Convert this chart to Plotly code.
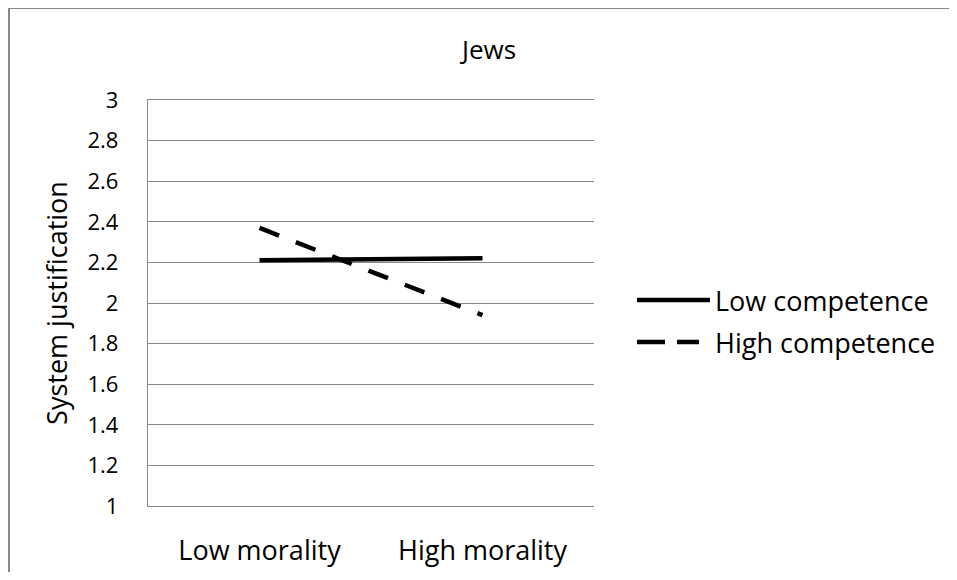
import plotly.graph_objects as go

categories = ["Low morality", "High morality"]
series_names = ["Low competence", "High competence"]
low_competence = [2.21, 2.22]
high_competence = [2.37, 1.94]
y_ticks = [1, 1.2, 1.4, 1.6, 1.8, 2, 2.2, 2.4, 2.6, 2.8, 3]
y_tick_labels = ["1", "1.2", "1.4", "1.6", "1.8", "2", "2.2", "2.4", "2.6", "2.8", "3"]

# The page body has an 8px margin, so the figure is sized to fit inside it.
OFF = 8
W, H = 941, 564
L, T = 148 - OFF, 100 - OFF
R = W - (594 - OFF)
B = H - (506 - OFF)
pw, ph = W - L - R, H - T - B

def px_x(p):  # page px -> paper
    return (p - OFF - L) / pw

def px_y(p):
    return (H - B - (p - OFF)) / ph

FONT = "Open Sans"
GRID = "#898989"
fig = go.Figure()
fig.add_trace(go.Scatter(x=categories, y=low_competence, mode="lines", name=series_names[0],
                         line=dict(color="black", width=4.5), showlegend=False))
fig.add_trace(go.Scatter(x=categories, y=high_competence, mode="lines", name=series_names[1],
                         line=dict(color="black", width=4.5, dash="21px,18px"), showlegend=False))

shapes = [
    # chart border (left and top)
    dict(type="line", xref="paper", yref="paper", x0=px_x(9), x1=px_x(1000), y0=px_y(8), y1=px_y(8),
         line=dict(color=GRID, width=2)),
    dict(type="line", xref="paper", yref="paper", x0=px_x(9), x1=px_x(9), y0=px_y(8), y1=px_y(700),
         line=dict(color=GRID, width=2)),
    # legend symbols
    dict(type="line", xref="paper", yref="paper", x0=px_x(637), x1=px_x(710), y0=px_y(300), y1=px_y(300),
         line=dict(color="black", width=4.5)),
    dict(type="line", xref="paper", yref="paper", x0=px_x(637), x1=px_x(699), y0=px_y(342), y1=px_y(342),
         line=dict(color="black", width=4.5, dash="28px,12px")),
]
annotations = [
    dict(text="Jews", xref="paper", yref="paper", x=px_x(487), y=px_y(49), showarrow=False,
         xanchor="center", yanchor="middle", font=dict(size=26, color="black", family=FONT)),
    dict(text=series_names[0], xref="paper", yref="paper", x=px_x(713), y=px_y(300), showarrow=False,
         xanchor="left", yanchor="middle", font=dict(size=27, color="black", family=FONT)),
    dict(text=series_names[1], xref="paper", yref="paper", x=px_x(713), y=px_y(342), showarrow=False,
         xanchor="left", yanchor="middle", font=dict(size=27, color="black", family=FONT)),
]

fig.update_layout(
    width=W, height=H,
    margin=dict(l=L, r=R, t=T, b=B, pad=0, autoexpand=False),
    paper_bgcolor="white", plot_bgcolor="white",
    showlegend=False,
    shapes=shapes, annotations=annotations,
    font=dict(family=FONT, size=22, color="black"),
    xaxis=dict(type="category", range=[-0.5, 1.5], showgrid=False, zeroline=False,
               showline=True, mirror=True, linecolor=GRID, linewidth=1.3,
               automargin=False,
               ticks="", ticklabelstandoff=20, tickfont=dict(size=27, family=FONT)),
    yaxis=dict(range=[1, 3], tickvals=y_ticks, ticktext=y_tick_labels, showgrid=True,
               gridcolor=GRID, gridwidth=1.3, showline=True, linecolor=GRID, linewidth=1.3,
               zeroline=False, automargin=False,
               ticks="", ticklabelstandoff=24, tickfont=dict(size=22, family=FONT),
               title=dict(text="System justification", standoff=12, font=dict(size=27, family=FONT))),
)

fig.write_html("out.html")
